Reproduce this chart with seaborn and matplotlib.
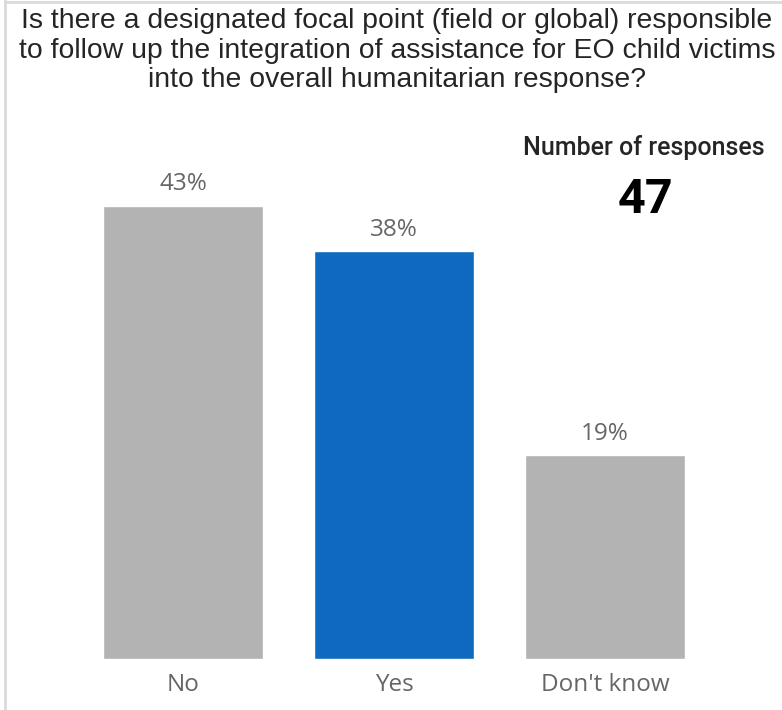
import matplotlib.pyplot as plt
import seaborn as sns
import numpy as np
from matplotlib.lines import Line2D

sns.set_theme(style='white')
plt.rcParams['font.family'] = ['Open Sans', 'DejaVu Sans']

# data
categories = ['No', 'Yes', "Don't know"]
counts = [20, 18, 9]          # out of 47 responses
total = 47
bar_colors = ['#b3b3b3', '#0f6abf', '#b3b3b3']

pct = [c / total * 100 for c in counts]
labels = ['{:.0f}%'.format(p) for p in pct]

fig = plt.figure(figsize=(7.82, 7.10), dpi=100)
ax = fig.add_axes([77.5 / 782, 51 / 710, 633 / 782, 509 / 710])

sns.barplot(x=categories, y=pct, hue=categories, palette=bar_colors,
            legend=False, width=0.758, saturation=1, ax=ax)

ax.set_ylim(0, 47.8)
ax.set_xlim(-0.5, 2.5)
ax.set_yticks([])
ax.set_ylabel('')
ax.set_xlabel('')
sns.despine(ax=ax, left=True, bottom=True)
ax.tick_params(axis='x', length=0, pad=10, labelsize=17.5, labelcolor='#666666')

for i, (p, lab) in enumerate(zip(pct, labels)):
    ax.annotate(lab, (i, p), xytext=(0, 15.5), textcoords='offset points',
                ha='center', va='center', fontsize=17.5, color='#666666')

# title
fig.text(397 / 782, 1 - 8 / 710,
         'Is there a designated focal point (field or global) responsible\n'
         'to follow up the integration of assistance for EO child victims\n'
         'into the overall humanitarian response?',
         ha='center', va='top', fontsize=20.4, color='#252525',
         family=['Liberation Sans', 'DejaVu Sans'], linespacing=1.18)

# card
fig.text(644 / 782, 1 - 148 / 710, 'Number of responses', ha='center', va='center',
         fontsize=18, color='#252525', family=['Roboto', 'DejaVu Sans'], weight='medium')
fig.text(646 / 782, 1 - 200 / 710, '47', ha='center', va='center',
         fontsize=35, color='#000000', family=['Roboto', 'DejaVu Sans'], weight='bold')

# frame lines
fig.add_artist(Line2D([5 / 782, 5 / 782], [0, 1], transform=fig.transFigure,
                      color='#dadada', lw=2))
fig.add_artist(Line2D([5 / 782, 1], [1 - 2 / 710, 1 - 2 / 710], transform=fig.transFigure,
                      color='#dadada', lw=2))

fig.savefig('out.png', dpi=100)
